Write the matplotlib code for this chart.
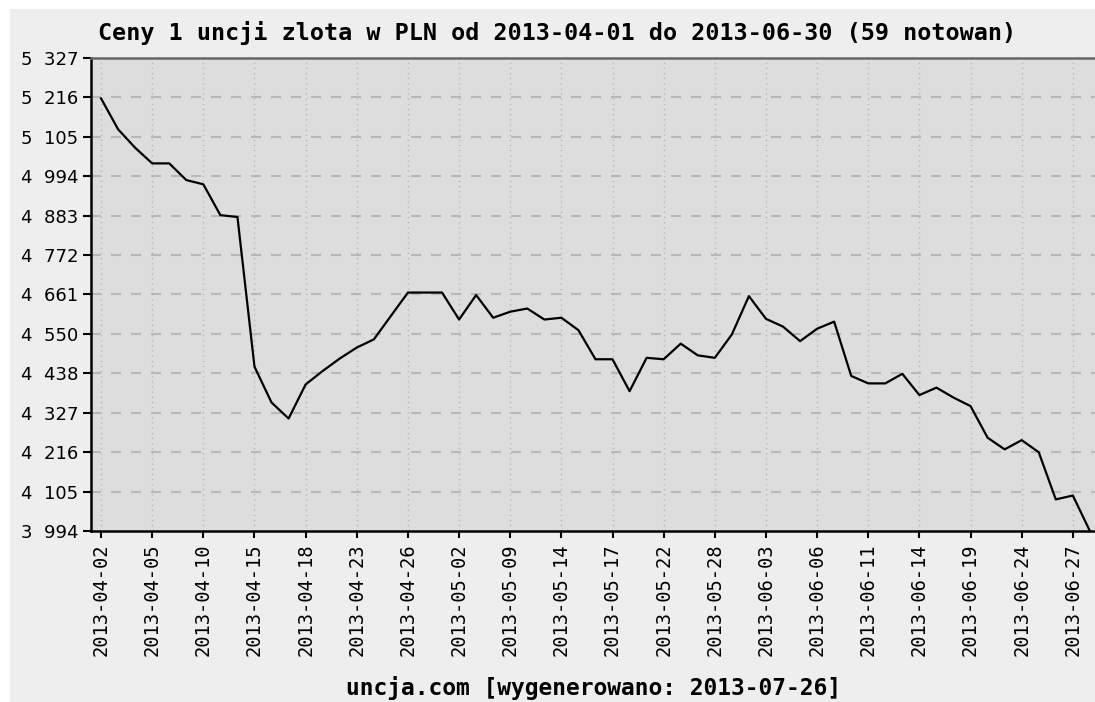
import matplotlib
matplotlib.use("Agg")
import matplotlib.pyplot as plt
from matplotlib.patches import Rectangle

plt.rcParams['lines.scale_dashes'] = False

title = "Ceny 1 uncji zlota w PLN od 2013-04-01 do 2013-06-30 (59 notowan)"
footer = "uncja.com [wygenerowano: 2013-07-26]"

prices = [5213, 5126, 5074, 5030, 5030, 4983, 4971, 4884, 4879, 4457,
          4356, 4311, 4407, 4445, 4480, 4511, 4534, 4600, 4666, 4666,
          4666, 4590, 4659, 4595, 4612, 4621, 4590, 4595, 4560, 4478,
          4478, 4388, 4482, 4478, 4522, 4489, 4482, 4548, 4656, 4592,
          4570, 4529, 4564, 4584, 4431, 4410, 4410, 4437, 4377, 4398,
          4370, 4346, 4257, 4224, 4250, 4216, 4083, 4094, 3994]

xtick_labels = ["2013-04-02", "2013-04-05", "2013-04-10", "2013-04-15", "2013-04-18",
                "2013-04-23", "2013-04-26", "2013-05-02", "2013-05-09", "2013-05-14",
                "2013-05-17", "2013-05-22", "2013-05-28", "2013-06-03", "2013-06-06",
                "2013-06-11", "2013-06-14", "2013-06-19", "2013-06-24", "2013-06-27"]
xtick_step = 3

yticks = [3994, 4105, 4216, 4327, 4438, 4550, 4661, 4772, 4883, 4994, 5105, 5216, 5327]

W, H = 1095, 702
fig = plt.figure(figsize=(W / 100, H / 100), dpi=100)
fig.patch.set_facecolor("white")
fig.patches.append(Rectangle((10 / W, 0), 1 - 10 / W, 1 - 9 / H, transform=fig.transFigure,
                             facecolor="#EEEEEE", edgecolor="none", zorder=-10))

ax = fig.add_axes([91 / W, 1 - 531 / H, 1 - 91 / W, (531 - 58) / H])
ax.set_facecolor("#DDDDDD")

x = list(range(len(prices)))
ax.plot(x, prices, color="black", lw=1.6, zorder=5, clip_on=True)

ax.set_xlim(-0.59, 58.3)
ax.set_ylim(yticks[0], yticks[-1])

xt = list(range(0, len(xtick_labels) * xtick_step, xtick_step))
ax.set_xticks(xt)
ax.set_xticklabels(xtick_labels, rotation=90, family="DejaVu Sans Mono", fontsize=13.5)
ax.set_yticks(yticks)
ax.set_yticklabels([f"{v // 1000}  {v % 1000:03d}" for v in yticks],
                   family="DejaVu Sans", fontsize=13)

ax.tick_params(axis="y", length=6, width=1.5, pad=3, color="black")
ax.tick_params(axis="x", length=5, width=1.5, pad=4, color="black")

# grid
for v in yticks[1:-1]:
    ax.axhline(v, color="#B8B8B8", lw=1.5, ls=(0, (7.2, 7.2)), zorder=1)
for t in xt:
    ax.axvline(t, color="#B0B0B0", lw=1.0, ls=(0, (0.8, 2.9)), zorder=1)

for s in ["left", "bottom"]:
    ax.spines[s].set_color("black")
    ax.spines[s].set_linewidth(1.8)
ax.spines["top"].set_color("#666666")
ax.spines["top"].set_linewidth(1.8)
ax.spines["right"].set_visible(False)

fig.text(557 / W, 1 - 33 / H, title, ha="center", va="center",
         family="DejaVu Sans Mono", fontweight="bold", fontsize=16.8)
fig.text(593 / W, 1 - 688 / H, footer, ha="center", va="center",
         family="DejaVu Sans Mono", fontweight="bold", fontsize=16.5)

fig.savefig("out.png", dpi=100)
